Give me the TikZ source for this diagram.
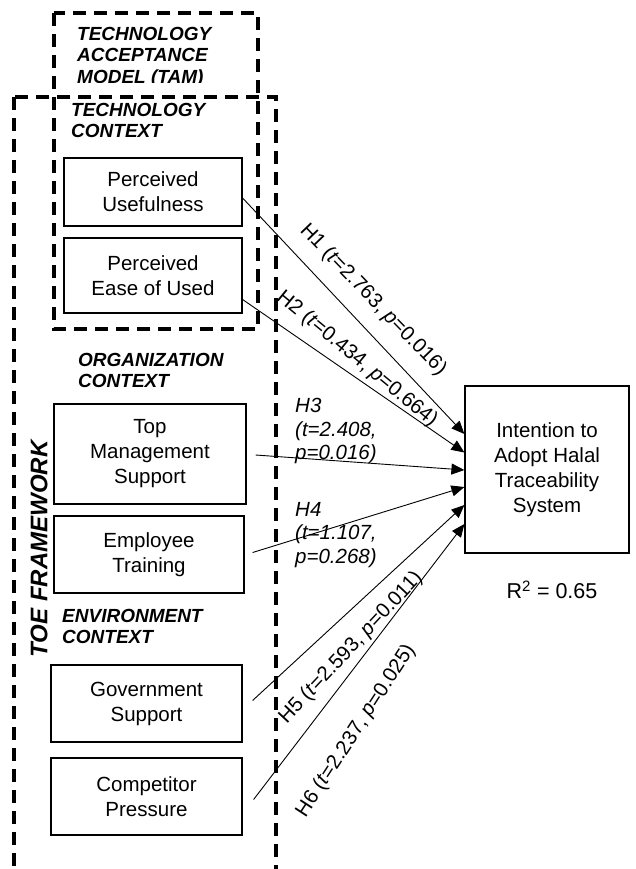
\documentclass[tikz,border=0pt]{standalone}
\usepackage{fontspec}
\setmainfont{Liberation Sans}
\usetikzlibrary{arrows.meta,calc}
\begin{document}
\begin{tikzpicture}[x=1pt,y=-1pt,
  factor/.style={draw, line width=1.2pt, align=center, inner sep=0pt,
    font=\fontsize{20.5}{25}\selectfont},
  heading/.style={anchor=north west, inner sep=0pt, align=left,
    font=\fontsize{19}{21.5}\selectfont\bfseries\itshape},
  dashbox/.style={line width=4pt, dash pattern=on 13pt off 8pt},
  link/.style={line width=0.9pt, -{Triangle[length=13pt,width=11pt]}},
  hlabel/.style={inner sep=0pt, font=\fontsize{20.5}{24}\selectfont},
]
\useasboundingbox (0,0) rectangle (636,869);

% framework outlines (the outer frame runs off the bottom edge)
\begin{scope}
  \clip (0,0) rectangle (636,869);
  \draw[dashbox] (54,13) rectangle (258,329);
  \draw[dashbox] (14,97) rectangle (276,871);
\end{scope}

% headings
\begin{scope}
  \clip (0,0) rectangle (636,83);
  \node[heading] (tam) at (77,27) {TECHNOLOGY\\ACCEPTANCE\\MODEL (TAM)};
\end{scope}
\node[heading] (tech) at (71,103) {TECHNOLOGY\\CONTEXT};
\node[heading] (org) at (78,353) {ORGANIZATION\\CONTEXT};
\node[heading] (env) at (62,609) {ENVIRONMENT\\CONTEXT};
\node[inner sep=0pt, rotate=90, font=\fontsize{24}{28}\selectfont\bfseries\itshape]
  (toe) at (39,549) {TOE FRAMEWORK};

% factors
\node[factor, minimum width=178pt, minimum height=68pt] (PU) at (153,192) {Perceived\\Usefulness};
\node[factor, minimum width=178pt, minimum height=75pt] (PE) at (153,275.5) {Perceived\\Ease of Used};
\node[factor, minimum width=192pt, minimum height=100pt] (TM) at (150,454) {Top\\Management\\Support};
\node[factor, minimum width=190pt, minimum height=77pt] (ET) at (149,554.5) {Employee\\Training};
\node[factor, minimum width=191pt, minimum height=77pt] (GS) at (146.5,703.5) {Government\\Support};
\node[factor, minimum width=191pt, minimum height=77pt] (CP) at (146.5,796.5) {Competitor\\Pressure};

% outcome
\node[factor, minimum width=164pt, minimum height=167pt] (IT) at (547,469.5)
  {Intention to\\Adopt Halal\\Traceability\\System};
\node[inner sep=0pt, font=\fontsize{21.5}{25}\selectfont] (R2) at (552,590)
  {R\textsuperscript{2} = 0.65};

% hypothesised paths
\draw[link] ($(PU.east)+(0,6)$) -- ($(IT.west)+(0,-35.5)$);
\draw[link] ($(PE.east)+(0,24)$) -- ($(IT.west)+(0,-17)$);
\draw[link] ($(TM.east)+(9,1)$) -- ($(IT.west)+(0,0.5)$);
\draw[link] ($(ET.east)+(8,-2)$) -- ($(IT.west)+(0,17.5)$);
\draw[link] ($(GS.east)+(10,-3)$) -- ($(IT.west)+(0,35.5)$);
\draw[link] ($(CP.east)+(11,3)$) -- ($(IT.west)+(0,54.5)$);

% path labels
\node[hlabel, rotate=-46] (L1) at (373,300) {H1 (\textit{t}=2.763, \textit{p}=0.016)};
\node[hlabel, rotate=-39.5] (L2) at (357,359) {H2 (\textit{t}=0.434, \textit{p}=0.664)};
\node[hlabel, anchor=north west, align=left, font=\fontsize{20.5}{23.5}\selectfont\itshape]
  (L3) at (295,398) {H3\\(t=2.408,\\p=0.016)};
\node[hlabel, anchor=north west, align=left, font=\fontsize{20.5}{23.5}\selectfont\itshape]
  (L4) at (295,502) {H4\\(t=1.107,\\p=0.268)};
\node[hlabel, rotate=47] (L5) at (351,648) {H5 (\textit{t}=2.593, \textit{p}=0.011)};
\node[hlabel, rotate=57] (L6) at (356,731) {H6 (\textit{t}=2.237, \textit{p}=0.025)};
\end{tikzpicture}
\end{document}
